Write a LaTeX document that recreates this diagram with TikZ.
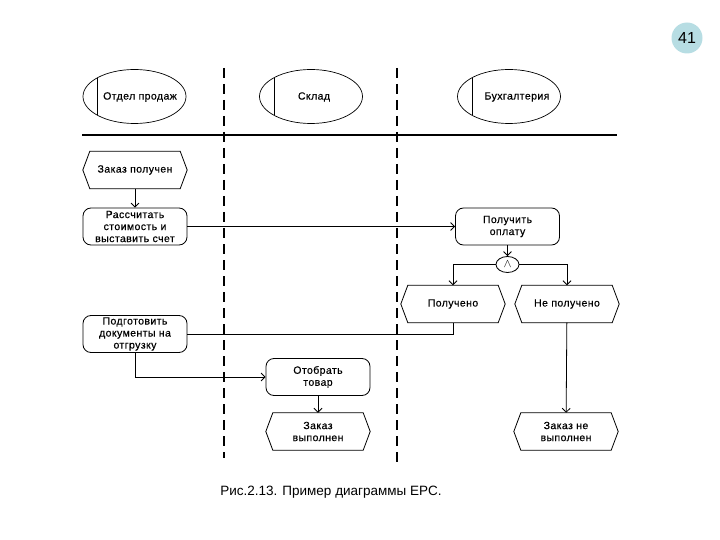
\documentclass[tikz,border=0pt]{standalone}
\usepackage{fontspec}
\setmainfont{Liberation Sans}
\usetikzlibrary{arrows.meta,shapes.geometric}
\definecolor{numfill}{RGB}{183,221,227}
\begin{document}
\begin{tikzpicture}[x=1pt,y=-1pt,
  lbl/.style={font=\fontsize{10.5}{12}\selectfont\addfontfeature{LetterSpace=4,FakeBold=0.4}, align=center},
  func/.style={lbl, draw, rounded corners=8pt, minimum width=104pt, minimum height=37pt, inner sep=0pt, line width=0.8pt},
  evt/.style={lbl, minimum width=104pt, minimum height=37pt, inner sep=0pt},
  hdr/.style={draw, ellipse, minimum width=103pt, minimum height=54pt, line width=0.7pt},
  conn/.style={line width=0.8pt},
  arr/.style={conn, -{Straight Barb[length=4pt,width=8pt]}},
  lane/.style={line width=1.2pt, dash pattern=on 10pt off 6pt},
  ]
\useasboundingbox (0,0) rectangle (720,540);

% page number
\node[circle, fill=numfill, minimum size=31pt, inner sep=0pt, font=\fontsize{16}{18}\selectfont] (num) at (687,38) {41};

% lane headers
\node[hdr] (h1) at (134.5,96.5) {};
\node[hdr] (h2) at (311,96.5) {};
\node[hdr] (h3) at (509,96.5) {};
\foreach \h in {h1,h2,h3}
  \draw[line width=0.8pt] ([xshift=-37pt,yshift=18.8pt]\h.center) -- ([xshift=-37pt,yshift=-18.8pt]\h.center);
\node[lbl] (t1) at (140,97) {Отдел продаж};
\node[lbl] (t2) at (314,97) {Склад};
\node[lbl] (t3) at (517,97) {Бухгалтерия};

% separators
\coordinate (ls) at (82,135);
\coordinate (le) at (617,135);
\draw[line width=2.2pt] (ls) -- (le);
\coordinate (d1a) at (224,68);
\coordinate (d1b) at (224,458);
\coordinate (d2a) at (397,68);
\coordinate (d2b) at (397,462);
\draw[lane] (d1a) -- (d1b);
\draw[lane] (d2a) -- (d2b);

% events
\node[evt] (e1) at (135,170) {Заказ получен};
\node[evt] (e2) at (453,304) {Получено};
\node[evt] (e3) at (318,431.5) {Заказ\\выполнен};
\node[evt] (e4) at (567,304) {Не получено};
\node[evt] (e5) at (566,431.5) {Заказ не\\выполнен};
\foreach \n in {e1,e2,e3,e4,e5}
  \draw[line width=0.8pt] (\n.west) -- ([xshift=7pt]\n.north west) -- ([xshift=-7pt]\n.north east)
    -- (\n.east) -- ([xshift=-7pt]\n.south east) -- ([xshift=7pt]\n.south west) -- cycle;

% functions
\node[func] (f1) at (135,226.5) {Рассчитать\\стоимость и\\выставить счет};
\node[func] (f2) at (507.5,226.5) {Получить\\оплату};
\node[func] (f3) at (135,334) {Подготовить\\документы на\\отгрузку};
\node[func] (f4) at (318,377) {Отобрать\\товар};

% AND connector
\node[draw, ellipse, minimum width=23pt, minimum height=16pt, inner sep=0pt, line width=0.8pt, font=\large] (and) at (507.5,264.5) {$\wedge$};

% connectors
\draw[arr] (e1) -- (f1);
\draw[arr] (f1) -- (f2);
\draw[arr] (f2) -- (and);
\draw[arr] (and.west) -| (e2.north);
\draw[arr] (and.east) -| (e4.north);
\draw[conn] (e2.south) |- (f3.east);
\draw[arr] (f3.south) |- (f4.west);
\draw[arr] (f4) -- (e3);
\draw[arr] (e4) -- (e5);

% caption
\node[font=\fontsize{13.5}{16}\selectfont] (cap) at (331,492) {Рис.2.13. Пример диаграммы EPC.};
\end{tikzpicture}
\end{document}
